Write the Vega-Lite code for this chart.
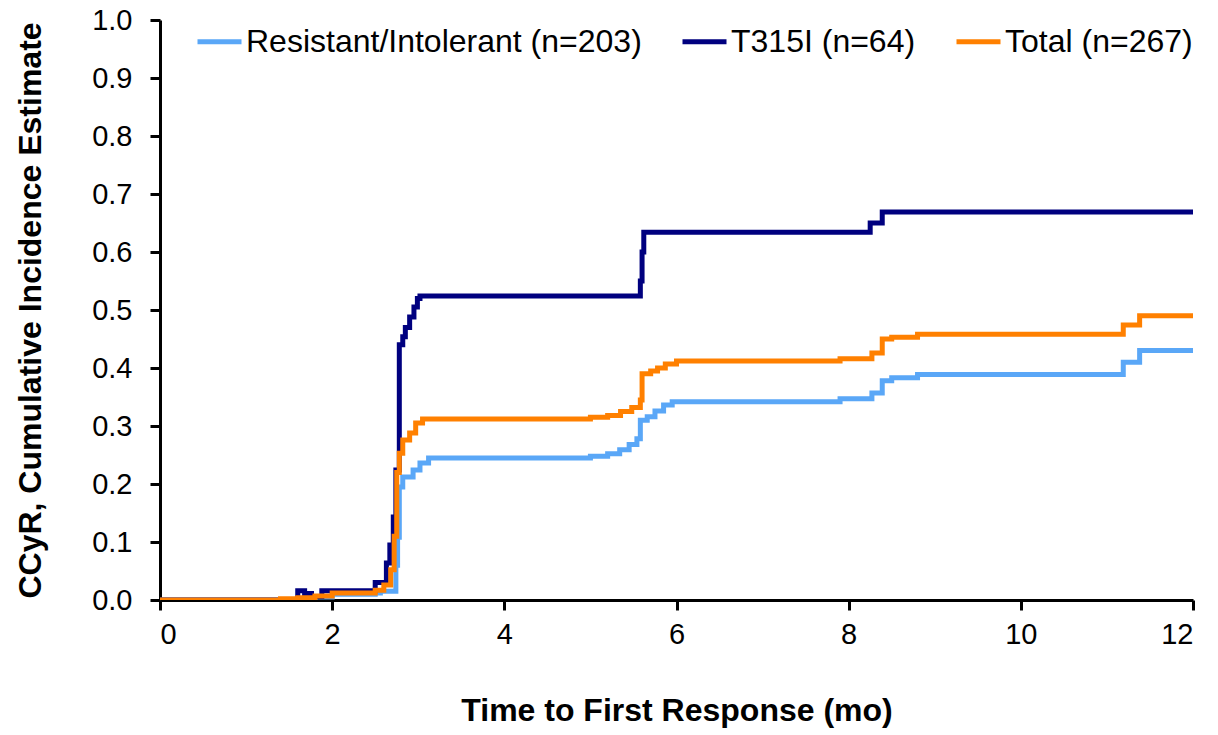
{
  "$schema": "https://vega.github.io/schema/vega-lite/v6.json",
  "width": 1033,
  "height": 580,
  "autosize": {"type": "none"},
  "padding": {"left": 160, "top": 20, "right": 25, "bottom": 135},
  "background": "white",
  "config": {
    "view": {"stroke": null},
    "font": "Liberation Sans",
    "axis": {
      "grid": false,
      "domainColor": "black",
      "domainWidth": 3,
      "tickColor": "black",
      "tickWidth": 3,
      "tickSize": 10,
      "labelFont": "Liberation Sans",
      "labelFontSize": 29,
      "labelColor": "black",
      "titleFont": "Liberation Sans",
      "titleFontSize": 32,
      "titleFontWeight": "bold",
      "titleColor": "black"
    }
  },
  "data": {
    "values": [
      {"group": "Resistant/Intolerant (n=203)", "t": 0, "y": 0},
      {"group": "Resistant/Intolerant (n=203)", "t": 1.6, "y": 0.002},
      {"group": "Resistant/Intolerant (n=203)", "t": 1.8, "y": 0.005},
      {"group": "Resistant/Intolerant (n=203)", "t": 2.0, "y": 0.01},
      {"group": "Resistant/Intolerant (n=203)", "t": 2.5, "y": 0.012},
      {"group": "Resistant/Intolerant (n=203)", "t": 2.56, "y": 0.015},
      {"group": "Resistant/Intolerant (n=203)", "t": 2.74, "y": 0.06},
      {"group": "Resistant/Intolerant (n=203)", "t": 2.76, "y": 0.108},
      {"group": "Resistant/Intolerant (n=203)", "t": 2.78, "y": 0.195},
      {"group": "Resistant/Intolerant (n=203)", "t": 2.82, "y": 0.212},
      {"group": "Resistant/Intolerant (n=203)", "t": 2.94, "y": 0.224},
      {"group": "Resistant/Intolerant (n=203)", "t": 3.02, "y": 0.236},
      {"group": "Resistant/Intolerant (n=203)", "t": 3.12, "y": 0.245},
      {"group": "Resistant/Intolerant (n=203)", "t": 5.0, "y": 0.248},
      {"group": "Resistant/Intolerant (n=203)", "t": 5.2, "y": 0.252},
      {"group": "Resistant/Intolerant (n=203)", "t": 5.34, "y": 0.259},
      {"group": "Resistant/Intolerant (n=203)", "t": 5.45, "y": 0.268},
      {"group": "Resistant/Intolerant (n=203)", "t": 5.54, "y": 0.278},
      {"group": "Resistant/Intolerant (n=203)", "t": 5.58, "y": 0.31},
      {"group": "Resistant/Intolerant (n=203)", "t": 5.66, "y": 0.316},
      {"group": "Resistant/Intolerant (n=203)", "t": 5.75, "y": 0.326},
      {"group": "Resistant/Intolerant (n=203)", "t": 5.85, "y": 0.336},
      {"group": "Resistant/Intolerant (n=203)", "t": 5.95, "y": 0.342},
      {"group": "Resistant/Intolerant (n=203)", "t": 7.9, "y": 0.347},
      {"group": "Resistant/Intolerant (n=203)", "t": 8.27, "y": 0.357},
      {"group": "Resistant/Intolerant (n=203)", "t": 8.39, "y": 0.378},
      {"group": "Resistant/Intolerant (n=203)", "t": 8.5, "y": 0.383},
      {"group": "Resistant/Intolerant (n=203)", "t": 8.8, "y": 0.389},
      {"group": "Resistant/Intolerant (n=203)", "t": 11.19, "y": 0.41},
      {"group": "Resistant/Intolerant (n=203)", "t": 11.38, "y": 0.43},
      {"group": "Resistant/Intolerant (n=203)", "t": 12, "y": 0.43},

      {"group": "T315I (n=64)", "t": 0, "y": 0},
      {"group": "T315I (n=64)", "t": 1.6, "y": 0.016},
      {"group": "T315I (n=64)", "t": 1.68, "y": 0.011},
      {"group": "T315I (n=64)", "t": 1.76, "y": 0.006},
      {"group": "T315I (n=64)", "t": 1.88, "y": 0.016},
      {"group": "T315I (n=64)", "t": 2.5, "y": 0.03},
      {"group": "T315I (n=64)", "t": 2.63, "y": 0.064},
      {"group": "T315I (n=64)", "t": 2.67, "y": 0.095},
      {"group": "T315I (n=64)", "t": 2.71, "y": 0.143},
      {"group": "T315I (n=64)", "t": 2.74, "y": 0.224},
      {"group": "T315I (n=64)", "t": 2.78, "y": 0.44},
      {"group": "T315I (n=64)", "t": 2.82, "y": 0.454},
      {"group": "T315I (n=64)", "t": 2.85, "y": 0.47},
      {"group": "T315I (n=64)", "t": 2.9, "y": 0.488},
      {"group": "T315I (n=64)", "t": 2.95, "y": 0.505},
      {"group": "T315I (n=64)", "t": 2.99, "y": 0.52},
      {"group": "T315I (n=64)", "t": 3.02, "y": 0.524},
      {"group": "T315I (n=64)", "t": 5.58, "y": 0.55},
      {"group": "T315I (n=64)", "t": 5.6, "y": 0.6},
      {"group": "T315I (n=64)", "t": 5.62, "y": 0.634},
      {"group": "T315I (n=64)", "t": 8.25, "y": 0.65},
      {"group": "T315I (n=64)", "t": 8.39, "y": 0.669},
      {"group": "T315I (n=64)", "t": 12, "y": 0.669},

      {"group": "Total (n=267)", "t": 0, "y": 0},
      {"group": "Total (n=267)", "t": 1.4, "y": 0.002},
      {"group": "Total (n=267)", "t": 1.6, "y": 0.004},
      {"group": "Total (n=267)", "t": 1.8, "y": 0.007},
      {"group": "Total (n=267)", "t": 2.0, "y": 0.012},
      {"group": "Total (n=267)", "t": 2.5, "y": 0.017},
      {"group": "Total (n=267)", "t": 2.6, "y": 0.026},
      {"group": "Total (n=267)", "t": 2.68, "y": 0.052},
      {"group": "Total (n=267)", "t": 2.72, "y": 0.11},
      {"group": "Total (n=267)", "t": 2.75, "y": 0.22},
      {"group": "Total (n=267)", "t": 2.78, "y": 0.253},
      {"group": "Total (n=267)", "t": 2.82, "y": 0.276},
      {"group": "Total (n=267)", "t": 2.9, "y": 0.288},
      {"group": "Total (n=267)", "t": 2.97, "y": 0.305},
      {"group": "Total (n=267)", "t": 3.05, "y": 0.312},
      {"group": "Total (n=267)", "t": 5.0, "y": 0.315},
      {"group": "Total (n=267)", "t": 5.2, "y": 0.318},
      {"group": "Total (n=267)", "t": 5.35, "y": 0.325},
      {"group": "Total (n=267)", "t": 5.48, "y": 0.332},
      {"group": "Total (n=267)", "t": 5.58, "y": 0.345},
      {"group": "Total (n=267)", "t": 5.6, "y": 0.39},
      {"group": "Total (n=267)", "t": 5.7, "y": 0.395},
      {"group": "Total (n=267)", "t": 5.78, "y": 0.4},
      {"group": "Total (n=267)", "t": 5.87, "y": 0.407},
      {"group": "Total (n=267)", "t": 6.0, "y": 0.412},
      {"group": "Total (n=267)", "t": 7.9, "y": 0.416},
      {"group": "Total (n=267)", "t": 8.27, "y": 0.426},
      {"group": "Total (n=267)", "t": 8.39, "y": 0.45},
      {"group": "Total (n=267)", "t": 8.5, "y": 0.453},
      {"group": "Total (n=267)", "t": 8.8, "y": 0.458},
      {"group": "Total (n=267)", "t": 11.19, "y": 0.474},
      {"group": "Total (n=267)", "t": 11.38, "y": 0.49},
      {"group": "Total (n=267)", "t": 12, "y": 0.49}
    ]
  },
  "mark": {"type": "line", "interpolate": "step-after", "strokeWidth": 5, "strokeJoin": "miter", "clip": true},
  "encoding": {
    "x": {
      "field": "t",
      "type": "quantitative",
      "scale": {"domain": [0, 12], "nice": false, "zero": false},
      "axis": {"values": [0, 2, 4, 6, 8, 10, 12], "title": "Time to First Response (mo)", "labelPadding": 10, "titlePadding": 46}
    },
    "y": {
      "field": "y",
      "type": "quantitative",
      "scale": {"domain": [0, 1], "nice": false},
      "axis": {"values": [0, 0.1, 0.2, 0.3, 0.4, 0.5, 0.6, 0.7, 0.8, 0.9, 1.0], "format": ".1f", "title": "CCyR, Cumulative Incidence Estimate", "labelPadding": 18, "titlePadding": 44}
    },
    "color": {
      "field": "group",
      "type": "nominal",
      "scale": {
        "domain": ["Resistant/Intolerant (n=203)", "T315I (n=64)", "Total (n=267)"],
        "range": ["#5AA7F7", "#00007F", "#FF8000"]
      },
      "legend": {
        "title": null,
        "orient": "none",
        "legendX": 35,
        "legendY": -3,
        "direction": "horizontal",
        "symbolType": "stroke",
        "symbolSize": 1936,
        "symbolStrokeWidth": 5,
        "labelFontSize": 32,
        "labelFont": "Liberation Sans",
        "labelColor": "black",
        "labelOffset": 2,
        "columnPadding": 30,
        "labelLimit": 600
      }
    }
  }
}
